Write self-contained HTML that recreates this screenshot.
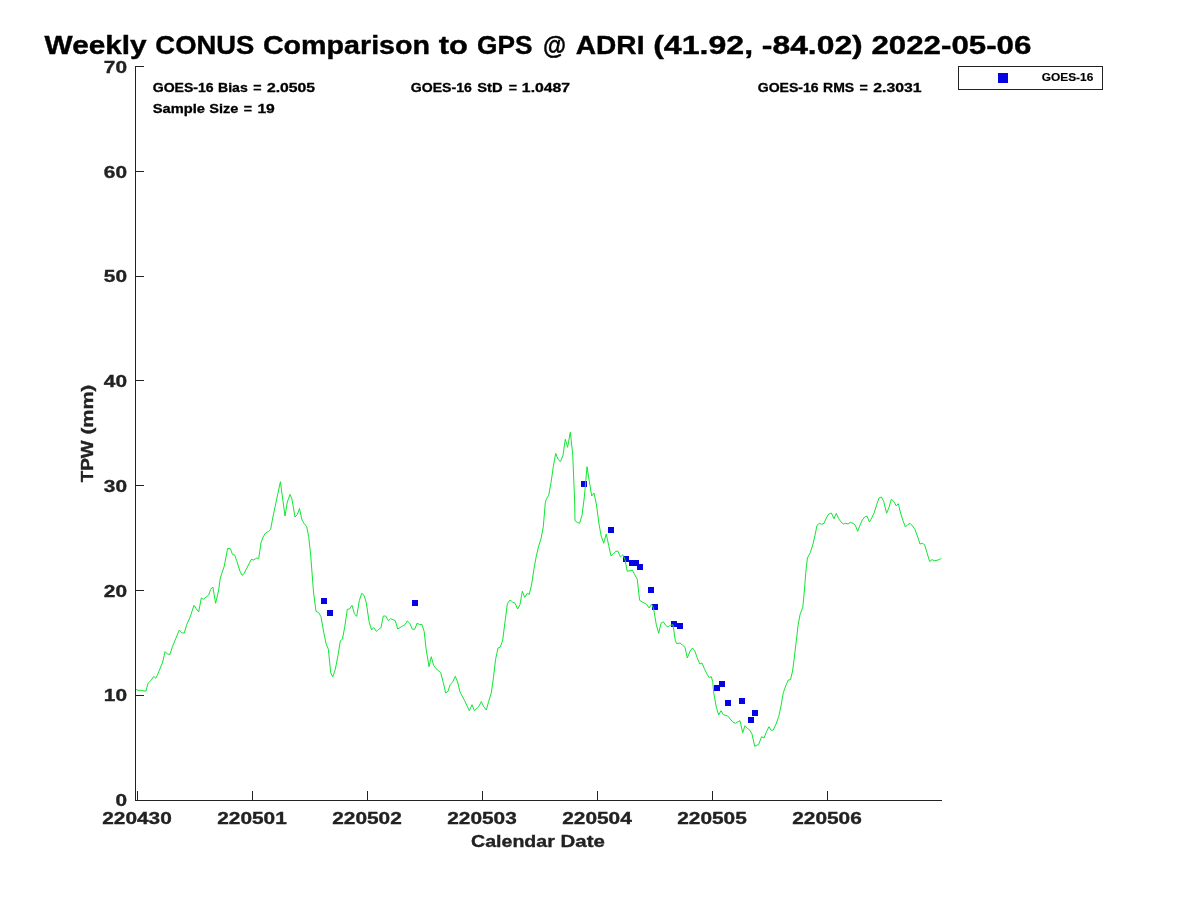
<!DOCTYPE html>
<html lang="en"><head><meta charset="utf-8"><title>Weekly CONUS Comparison to GPS @ ADRI</title>
<style>
html,body{margin:0;padding:0;background:#fff;}
body{width:1200px;height:900px;overflow:hidden;}
svg{display:block;will-change:transform;}
svg text{font-family:"Liberation Sans",sans-serif;font-weight:bold;}
.ax{fill:#222222;stroke:#222222;stroke-width:0.35px;}
.tt{fill:#000;stroke:#000;stroke-width:0.4px;}
.st{fill:#000;stroke:#000;stroke-width:0.3px;}
.lg{fill:#000;stroke:#000;stroke-width:0.15px;}
</style></head><body>
<svg width="1200" height="900" viewBox="0 0 1200 900">
<rect x="0" y="0" width="1200" height="900" fill="#ffffff"/>
<text y="54.00" font-size="25.45" class="tt"><tspan x="44.60" textLength="102.09" lengthAdjust="spacingAndGlyphs">Weekly</tspan> <tspan x="155.38" textLength="98.84" lengthAdjust="spacingAndGlyphs">CONUS</tspan> <tspan x="262.91" textLength="167.11" lengthAdjust="spacingAndGlyphs">Comparison</tspan> <tspan x="438.71" textLength="29.14" lengthAdjust="spacingAndGlyphs">to</tspan> <tspan x="477.04" textLength="55.36" lengthAdjust="spacingAndGlyphs">GPS</tspan> <tspan x="543.08" textLength="23.02" lengthAdjust="spacingAndGlyphs">@</tspan> <tspan x="575.79" textLength="68.67" lengthAdjust="spacingAndGlyphs">ADRI</tspan> <tspan x="653.15" textLength="100.02" lengthAdjust="spacingAndGlyphs">(41.92,</tspan> <tspan x="761.85" textLength="100.89" lengthAdjust="spacingAndGlyphs">-84.02)</tspan> <tspan x="871.43" textLength="159.94" lengthAdjust="spacingAndGlyphs">2022-05-06</tspan></text>
<g fill="#0606e4">
<rect x="321" y="598" width="6" height="6"/>
<rect x="327" y="610" width="6" height="6"/>
<rect x="412" y="600" width="6" height="6"/>
<rect x="581" y="481" width="6" height="6"/>
<rect x="608" y="527" width="6" height="6"/>
<rect x="623" y="556" width="6" height="6"/>
<rect x="629" y="560" width="6" height="6"/>
<rect x="633" y="560" width="6" height="6"/>
<rect x="637" y="564" width="6" height="6"/>
<rect x="648" y="587" width="6" height="6"/>
<rect x="652" y="604" width="6" height="6"/>
<rect x="671" y="621" width="6" height="6"/>
<rect x="677" y="623" width="6" height="6"/>
<rect x="719" y="681" width="6" height="6"/>
<rect x="714" y="685" width="6" height="6"/>
<rect x="725" y="700" width="6" height="6"/>
<rect x="739" y="698" width="6" height="6"/>
<rect x="752" y="710" width="6" height="6"/>
<rect x="748" y="717" width="6" height="6"/>
</g>
<polyline fill="none" stroke="#10e632" stroke-width="1" stroke-linejoin="round" points="136,689.3 138,690.4 141.3,690.3 144,691 146,691 148,683.3 151.3,680 153.7,676.4 155.7,678.3 157.3,675.3 162.7,662 165,651.6 167.3,654 170,654.4 172.4,646.7 176,638 179.3,630 182,633 184.3,633 186.7,624.7 190,617.3 194,605.3 196.3,608.7 198.7,612 201.3,598 203.3,599.3 208.7,595 210.7,589.3 212.9,587 215.6,603.3 218.5,591 220.3,578 224.3,566 227.6,548.4 230.4,548.7 232.4,554.3 234.7,555 236.7,560.7 240,571.3 242,575.3 244,573.7 251.3,559.3 253.7,560 256.7,558 258.7,558.7 261,542.7 263,537.3 265.3,533.3 268.3,531.6 270.7,529.3 272.7,518 280.4,481.7 285,516 287.3,502 290,494.4 292,499.3 295,517 297.3,514.7 299.5,508.4 302,520 304,523.3 306.7,526.7 308.7,536.7 310.7,555.3 313.5,592 316,611.3 318.7,612.7 321,616.7 323.3,630 326,643.3 328.4,649.3 330.7,672.7 332.7,677 335.3,669.3 338,655.3 340.4,640.7 342.4,639.3 344.7,627.3 347.3,609.3 349.6,609 352,605.3 354.4,613.7 356.7,616.4 359.3,600.7 361.7,593.3 364,595.3 366.3,602.7 369,621.3 371.6,630 373.7,627.6 376.4,631.3 378.7,629.3 381,627.6 383.3,616 385.7,616 388.4,620.7 390.7,618.7 393,619.6 395.3,620.7 397.7,629 402.7,626 405,624.7 407.3,621 409.7,623.3 412.4,629.3 414.7,629.3 417,623.3 419.3,624.4 422,624.5 424.2,631.6 426,648.3 429,666.7 431.3,656.7 433.6,665.3 436,668.7 440.7,672.7 443.3,682.7 445.7,693 448,691.3 450.3,684.3 452.7,682 455.3,676.3 457.6,682 460,692 464.7,700.7 469.3,710.7 472,704.7 474.4,710.7 478.7,706.7 481.3,701.6 483.7,706.7 486.3,710 488.7,701.3 491.3,692.7 493.3,678.7 495.6,659.3 498,648 500.4,647 502.7,640 505.3,619.6 507.4,603.6 510,600 512.7,602.2 515,603.2 517.7,609 520,604.6 522.3,591.3 524.7,597.3 527.3,593.3 529.3,594.4 531.7,584 534,568.7 536.3,556 538.7,546 541,538.7 543.3,526.7 545.3,502.7 546.3,499.3 548.7,495.3 551,482.7 553.3,466.7 555.7,453.3 558,459.3 560.4,461.6 563,455.3 565.3,439.3 567.6,447.3 570.3,432.3 572.7,454 574.6,500 575,520.7 577.3,522.4 579.6,523.3 582,515.3 584.4,496.7 587,466.7 589.3,481.3 591.7,496 594,493 596.5,505 599,524 601.2,536 603.7,543.3 606.2,534 608.7,545.3 611,556 613.3,554 615.7,551.3 618,551.2 620.4,557 622.8,554.7 625.1,559.8 627.2,571.3 630,570.7 632.4,570 634.7,574.7 637.3,579.3 639.6,600.3 642,601.8 646.7,604.4 649.2,608 651.5,604 653.5,608.4 656.3,624.7 658.7,633.3 661,623.3 663.3,621.7 665.6,625.3 668,627 670.4,625.3 673,624.7 675.3,640.7 676.7,643.7 680,643 682.4,645 685,647.3 687.3,658 690,651.3 692.4,648 694.7,650.7 697,657.3 699.8,664 702,663 704.4,668.7 706.7,673.6 709.3,677.8 711.3,676.7 712.7,681.6 713.7,692.7 716.3,707 718.7,715 721,710.7 723.3,714.7 727.7,716 732.7,722 735.3,723.3 740,720.7 742.7,732.7 745,725.7 747.3,728.4 749.7,730 752,734 754.7,746.3 758.7,744.4 761.6,736.7 764,738 766.7,731.3 769,726.7 771.3,730.4 773.3,730 776,724 778.7,716.7 781,706 783.3,692.7 785.7,686 788.3,680 790.5,679.6 792.6,671 794.5,656 796.1,642.4 798.1,625.3 800.1,614.4 802.8,607.2 803.7,598 804.6,588 805.7,573.3 807.4,558 810.3,552.7 813,544 815,535.3 817,525.3 819.4,523.3 821.7,524.3 824,523.3 826.3,518 828.7,514 831.4,513 834,518.7 836.3,513.3 838.7,518.7 841,522 843.4,524 845.7,523.3 848,524 850.3,522.4 853,523.3 855.3,525.3 857.7,531.3 860,525.3 862.3,520 864.7,517 867,516 869.4,522 871.7,518 874,513.3 876.7,504.7 879,498 881.4,497 883.7,501.3 886.6,513.3 889,507.3 891.3,499.3 893.7,501.3 896.3,506 898.3,503.7 900.7,513.3 903,520.7 905.4,527 907.7,524.7 910,523.3 912.6,526 915,529.6 917.4,536 920,544 922.3,543.3 924.6,544.7 927,552.7 929.7,561.6 932,559.6 934.3,560.7 937,560.3 939.7,559.3 941.3,558.4"/>
<g stroke="#222222" stroke-width="1" fill="none" shape-rendering="crispEdges">
<path d="M135.5 66.0 V800.5 H942.0"/>
<path d="M135.5 800.5 h8.5"/>
<path d="M135.5 695.5 h8.5"/>
<path d="M135.5 590.5 h8.5"/>
<path d="M135.5 485.5 h8.5"/>
<path d="M135.5 380.5 h8.5"/>
<path d="M135.5 276.5 h8.5"/>
<path d="M135.5 171.5 h8.5"/>
<path d="M135.5 66.5 h8.5"/>
<path d="M137.5 800.5 v-9.5"/>
<path d="M252.5 800.5 v-9.5"/>
<path d="M367.5 800.5 v-9.5"/>
<path d="M482.5 800.5 v-9.5"/>
<path d="M597.5 800.5 v-9.5"/>
<path d="M712.5 800.5 v-9.5"/>
<path d="M827.5 800.5 v-9.5"/>
</g>
<text y="805.75" font-size="16.97" class="ax"><tspan x="115.46" textLength="11.59" lengthAdjust="spacingAndGlyphs">0</tspan></text>
<text y="700.95" font-size="16.97" class="ax"><tspan x="103.86" textLength="23.19" lengthAdjust="spacingAndGlyphs">10</tspan></text>
<text y="596.75" font-size="16.97" class="ax"><tspan x="103.86" textLength="23.19" lengthAdjust="spacingAndGlyphs">20</tspan></text>
<text y="491.75" font-size="16.97" class="ax"><tspan x="103.86" textLength="23.19" lengthAdjust="spacingAndGlyphs">30</tspan></text>
<text y="386.95" font-size="16.97" class="ax"><tspan x="103.86" textLength="23.19" lengthAdjust="spacingAndGlyphs">40</tspan></text>
<text y="281.95" font-size="16.97" class="ax"><tspan x="103.86" textLength="23.19" lengthAdjust="spacingAndGlyphs">50</tspan></text>
<text y="177.75" font-size="16.97" class="ax"><tspan x="103.86" textLength="23.19" lengthAdjust="spacingAndGlyphs">60</tspan></text>
<text y="72.95" font-size="16.97" class="ax"><tspan x="103.86" textLength="23.19" lengthAdjust="spacingAndGlyphs">70</tspan></text>
<text y="823.80" font-size="16.97" class="ax"><tspan x="102.23" textLength="69.55" lengthAdjust="spacingAndGlyphs">220430</tspan></text>
<text y="823.80" font-size="16.97" class="ax"><tspan x="217.23" textLength="69.55" lengthAdjust="spacingAndGlyphs">220501</tspan></text>
<text y="823.80" font-size="16.97" class="ax"><tspan x="332.23" textLength="69.55" lengthAdjust="spacingAndGlyphs">220502</tspan></text>
<text y="823.80" font-size="16.97" class="ax"><tspan x="447.23" textLength="69.55" lengthAdjust="spacingAndGlyphs">220503</tspan></text>
<text y="823.80" font-size="16.97" class="ax"><tspan x="562.23" textLength="69.55" lengthAdjust="spacingAndGlyphs">220504</tspan></text>
<text y="823.80" font-size="16.97" class="ax"><tspan x="677.23" textLength="69.55" lengthAdjust="spacingAndGlyphs">220505</tspan></text>
<text y="823.80" font-size="16.97" class="ax"><tspan x="792.23" textLength="69.55" lengthAdjust="spacingAndGlyphs">220506</tspan></text>
<text y="846.80" font-size="16.97" class="ax"><tspan x="471.10" textLength="83.72" lengthAdjust="spacingAndGlyphs">Calendar</tspan> <tspan x="560.60" textLength="44.33" lengthAdjust="spacingAndGlyphs">Date</tspan></text>
<text y="0.00" font-size="16.97" class="ax" transform="translate(93.4 482.3) rotate(-90)"><tspan x="0.00" textLength="41.95" lengthAdjust="spacingAndGlyphs">TPW</tspan> <tspan x="47.73" textLength="49.95" lengthAdjust="spacingAndGlyphs">(mm)</tspan></text>
<text y="92.10" font-size="12.73" class="st"><tspan x="152.70" textLength="61.02" lengthAdjust="spacingAndGlyphs">GOES-16</tspan> <tspan x="218.06" textLength="29.70" lengthAdjust="spacingAndGlyphs">Bias</tspan> <tspan x="253.19" textLength="8.30" lengthAdjust="spacingAndGlyphs">=</tspan> <tspan x="266.92" textLength="48.25" lengthAdjust="spacingAndGlyphs">2.0505</tspan></text>
<text y="112.70" font-size="12.73" class="st"><tspan x="152.70" textLength="52.19" lengthAdjust="spacingAndGlyphs">Sample</tspan> <tspan x="209.22" textLength="29.06" lengthAdjust="spacingAndGlyphs">Size</tspan> <tspan x="243.71" textLength="8.28" lengthAdjust="spacingAndGlyphs">=</tspan> <tspan x="257.43" textLength="17.41" lengthAdjust="spacingAndGlyphs">19</tspan></text>
<text y="92.10" font-size="12.73" class="st"><tspan x="410.80" textLength="61.02" lengthAdjust="spacingAndGlyphs">GOES-16</tspan> <tspan x="477.16" textLength="25.36" lengthAdjust="spacingAndGlyphs">StD</tspan> <tspan x="508.76" textLength="8.28" lengthAdjust="spacingAndGlyphs">=</tspan> <tspan x="521.89" textLength="48.25" lengthAdjust="spacingAndGlyphs">1.0487</tspan></text>
<text y="92.10" font-size="12.73" class="st"><tspan x="757.70" textLength="61.02" lengthAdjust="spacingAndGlyphs">GOES-16</tspan> <tspan x="823.06" textLength="31.08" lengthAdjust="spacingAndGlyphs">RMS</tspan> <tspan x="859.58" textLength="8.28" lengthAdjust="spacingAndGlyphs">=</tspan> <tspan x="873.29" textLength="48.25" lengthAdjust="spacingAndGlyphs">2.3031</tspan></text>
<rect x="958.5" y="66.5" width="144" height="23" fill="#fff" stroke="#222222" stroke-width="1" shape-rendering="crispEdges"/>
<rect x="998" y="73" width="10" height="10" fill="#0606e4"/>
<text y="80.80" font-size="10.30" class="lg"><tspan x="1041.70" textLength="51.60" lengthAdjust="spacingAndGlyphs">GOES-16</tspan></text>
</svg>
</body></html>
